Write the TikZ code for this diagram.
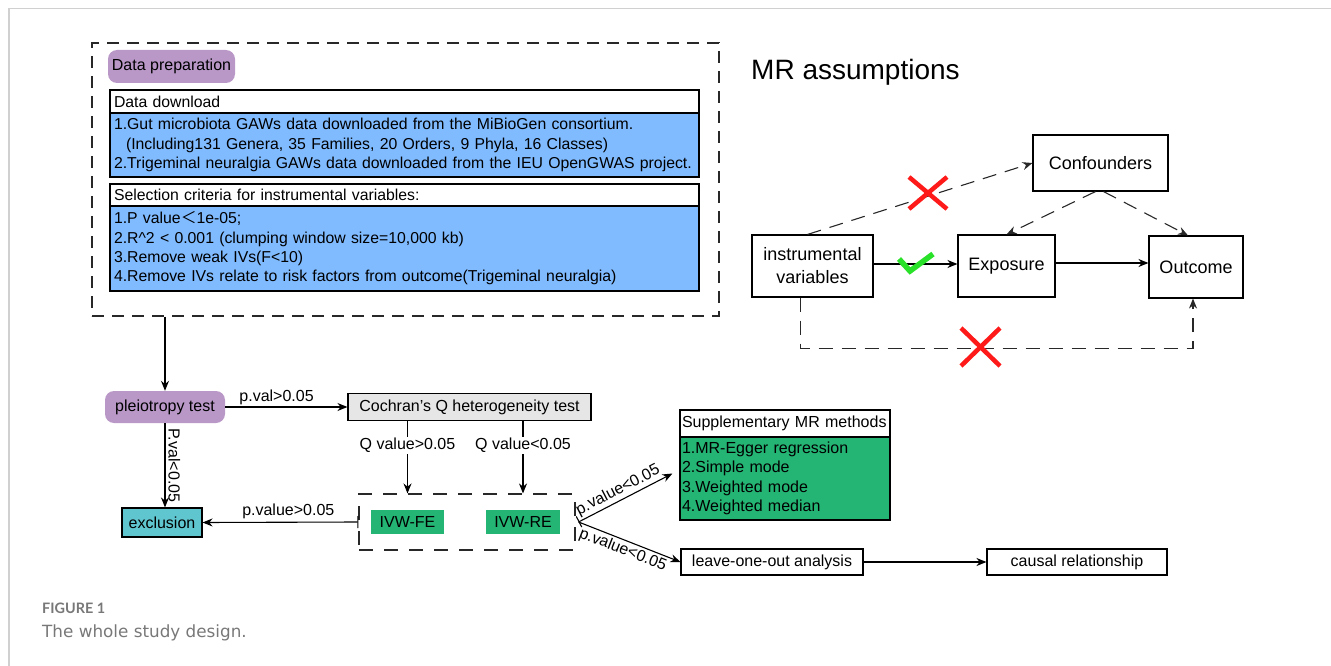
\documentclass[tikz,border=0pt]{standalone}
\usepackage{fontspec}
\setmainfont{Liberation Sans}
\newfontfamily\cjk{Noto Sans CJK SC}
\newfontfamily\capfont{Lato}
\newfontfamily\capbody{DejaVu Sans}
\usetikzlibrary{arrows.meta}
\definecolor{prepc}{RGB}{185,152,200}
\definecolor{bluec}{RGB}{128,187,255}
\definecolor{greenc}{RGB}{36,180,116}
\definecolor{tealc}{RGB}{95,197,207}
\definecolor{grayc}{RGB}{230,230,230}
\definecolor{framec}{RGB}{208,208,208}
\definecolor{capc}{RGB}{120,120,120}
\definecolor{redx}{RGB}{255,26,26}
\definecolor{greenck}{RGB}{40,225,40}
\definecolor{dashc}{RGB}{40,40,40}
\tikzset{
  txt/.style={font=\fontsize{16}{19.3}\selectfont},
  toptxt/.style={font=\fontsize{15.8}{19.3}\selectfont},
  bx/.style={draw, line width=1.1pt, inner sep=0pt, txt},
  lbox/.style={bx, align=left, inner xsep=4pt},
  pill/.style={fill=prepc, rounded corners=9pt, inner sep=0pt, txt},
  arr/.style={line width=1.1pt, -{Stealth[length=10pt,width=8pt]}},
  bararr/.style={line width=1.1pt, {Bar[width=12pt,line width=1.1pt]}-{Stealth[length=10pt,width=8pt]}},
  dsh/.style={dashc, line width=1.1pt, dash pattern=on 14pt off 9pt},
  mrbox/.style={draw, line width=1.1pt, inner sep=0pt, font=\fontsize{18}{23}\selectfont, align=center},
  xmark/.style={redx, line width=4.5pt},
}
\begin{document}
\begin{tikzpicture}[x=1pt,y=-1pt]
\useasboundingbox (0,0) rectangle (1331,666);
% frame
\draw[framec, line width=1.5pt] (1331,8.5) -- (9,8.5) -- (9,666);

% ===== Data preparation block =====
\node[draw=dashc, line width=1.1pt, dash pattern=on 12pt off 8pt, minimum width=627pt, minimum height=273pt, inner sep=0pt] (outer) at (405.5,179.5) {};
\node[pill, minimum width=127pt, minimum height=33pt] (prep) at (171.5,66.5) {Data preparation};
\node[lbox, toptxt, fill=white, text width=581pt, minimum height=23pt] (dl) at (404.5,101.5) {Data download};
\node[lbox, toptxt, fill=bluec, text width=581pt, minimum height=64pt] (dlb) at (404.5,145) {1.Gut microbiota GAWs data downloaded from the MiBioGen consortium.\\\hspace*{12pt}(Including131 Genera, 35 Families, 20 Orders, 9 Phyla, 16 Classes)\\\mbox{2.Trigeminal neuralgia GAWs data downloaded from the IEU OpenGWAS project.}};
\node[lbox, toptxt, fill=white, text width=581pt, minimum height=22pt] (sel) at (404.5,195) {Selection criteria for instrumental variables:};
\node[lbox, toptxt, fill=bluec, text width=581pt, minimum height=85pt] (selb) at (404.5,248.5) {1.P value{\cjk ＜}1e-05;\\2.R\textasciicircum 2 {\textless} 0.001 (clumping window size=10,000 kb)\\3.Remove weak IVs(F{\textless}10)\\4.Remove IVs relate to risk factors from outcome(Trigeminal neuralgia)};

% ===== MR assumptions =====
\node[anchor=west, inner sep=0pt, font=\fontsize{28}{32}\selectfont] (mrt) at (751,72) {MR assumptions};
\node[mrbox, minimum width=135pt, minimum height=56pt] (conf) at (1100.5,163) {Confounders};
\node[mrbox, minimum width=121pt, minimum height=62pt] (iv) at (812.5,266) {instrumental\\variables};
\node[mrbox, minimum width=97pt, minimum height=62pt] (exp) at (1006.5,266) {Exposure};
\node[mrbox, minimum width=94pt, minimum height=62pt] (out) at (1196,267) {Outcome};

\draw[arr] ([yshift=2pt]iv.east) -- ([yshift=2pt]exp.west);
\draw[arr] ([yshift=3pt]exp.east) -- ([yshift=3pt]exp.east -| out.west);
\draw[dsh, arr] ([xshift=-5pt]iv.north) -- (conf.west);
\draw[dsh, arr] ([xshift=-5pt]conf.south) -- (exp.north);
\draw[dsh, arr] ([xshift=3pt]conf.south) -- ([xshift=-8pt]out.north);
\draw[dsh, arr] ([xshift=-12pt]iv.south) -- ++(0,51) -| ([xshift=-3pt]out.south);

% marks
\draw[xmark] (909,177) -- (947,209) (909,209) -- (947,177);
\draw[xmark] (961,328) -- (1000,366) (961,366) -- (1000,328);
\draw[greenck, line width=5.5pt] (899,259) -- (910,271) -- (933,254);

% ===== Lower flow =====
\node[pill, minimum width=120pt, minimum height=32pt] (pleio) at (165,407) {pleiotropy test};
\node[bx, fill=grayc, minimum width=243pt, minimum height=27pt] (coch) at (469.5,407) {Cochran's Q heterogeneity test};
\node[draw=dashc, line width=1.1pt, dash pattern=on 14pt off 11pt, minimum width=216pt, minimum height=56pt, inner sep=0pt] (dbox) at (467,522) {};
\node[fill=greenc, minimum width=73pt, minimum height=24pt, inner sep=0pt, txt] (fe) at (407.5,522) {IVW-FE};
\node[fill=greenc, minimum width=74pt, minimum height=24pt, inner sep=0pt, txt] (re) at (523,522) {IVW-RE};
\node[bx, fill=tealc, minimum width=80pt, minimum height=29pt] (excl) at (162,522.5) {exclusion};
\node[lbox, fill=white, inner xsep=2pt, text width=206pt, minimum height=27pt] (suph) at (785,423.5) {Supplementary MR methods};
\node[lbox, fill=greenc, inner xsep=2pt, text width=206pt, minimum height=83pt] (supg) at (785,478.5) {1.MR-Egger regression\\2.Simple mode\\3.Weighted mode\\4.Weighted median};
\node[bx, minimum width=182pt, minimum height=26pt] (loo) at (772,562) {leave-one-out analysis};
\node[bx, minimum width=180pt, minimum height=26pt] (causal) at (1077,562) {causal relationship};

\draw[arr] (outer.south -| pleio) -- (pleio.north);
\draw[arr] (pleio.east) -- node[txt, above, pos=0.42, inner sep=2pt] {p.val>0.05} (coch.west);
\draw[arr] (coch.south -| fe) -- node[txt, fill=white, pos=0.34, inner sep=1pt] {Q value>0.05} (dbox.north -| fe);
\draw[arr] (coch.south -| re) -- node[txt, fill=white, pos=0.34, inner sep=1pt] {Q value<0.05} (dbox.north -| re);
\draw[arr] (pleio.south) -- node[txt, rotate=-90, anchor=south, inner sep=3pt] {P.val<0.05} (pleio.south |- excl.north);
\draw[bararr] (dbox.west) -- node[txt, above, pos=0.45, inner sep=3pt] {p.value>0.05} (excl.east);
\draw[bararr] ([xshift=3pt]dbox.east) -- node[txt, sloped, above, pos=0.47, inner sep=2pt] {p.value<0.05} ([shift={(-7pt,5pt)}]supg.west);
\draw[arr] ([xshift=3pt]dbox.east) -- node[txt, sloped, below, pos=0.47, inner sep=2pt] {p.value<0.05} (loo.west);
\draw[arr] (loo.east) -- (causal.west);

% caption
\node[anchor=base west, inner sep=0pt, text=capc, font=\capfont\fontsize{14.4}{17}\selectfont\bfseries] (fig) at (42,613) {FIGURE 1};
\node[anchor=base west, inner sep=0pt, text=capc, font=\capbody\fontsize{16.8}{20}\selectfont] (cap) at (42,637) {The whole study design.};
\end{tikzpicture}
\end{document}
